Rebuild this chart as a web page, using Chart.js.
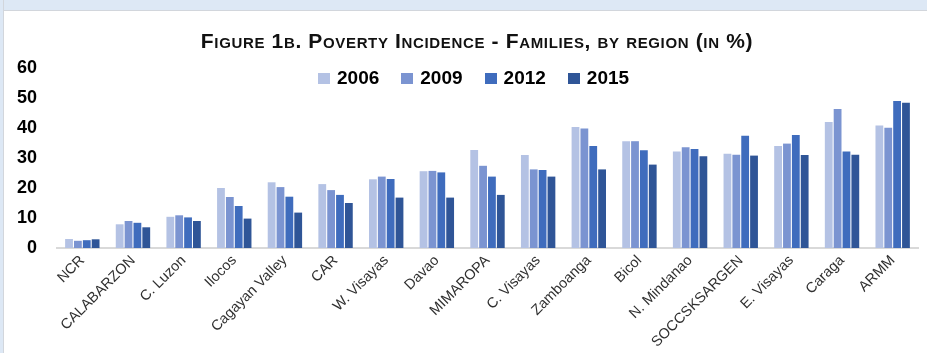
<!DOCTYPE html>
<html>
<head>
<meta charset="utf-8">
<script src="https://cdn.jsdelivr.net/npm/chart.js@4/dist/chart.umd.min.js"></script>
<style>
  html, body { margin: 0; padding: 0; background: #ffffff; }
  body { width: 927px; height: 353px; position: relative; overflow: hidden; }
  #topband { position: absolute; left: 0; top: 0; width: 927px; height: 10px; background: #dde8f5; border-bottom: 1px solid #d2d6dc; }
  #leftband { position: absolute; left: 0; top: 0; width: 3px; height: 353px; background: #dde8f5; border-right: 1px solid #d2d6dc; }
  #title { position: absolute; left: 0; top: 29px; width: 954px; text-align: center;
           font-family: "Liberation Sans Narrow", "Liberation Sans", sans-serif; font-weight: bold;
           font-variant: small-caps; font-size: 21px; color: #111; letter-spacing: 0.65px; white-space: nowrap; }
  #legend { position: absolute; left: 318px; top: 67px; display: flex; align-items: center;
            font-family: "Liberation Sans", sans-serif; font-weight: bold; font-size: 19px; color: #000; }
  .item { display: flex; align-items: center; margin-right: 22px; }
  .sw { width: 12px; height: 11px; margin-right: 7px; }
  #wrap { position: absolute; left: 0; top: 0; width: 927px; height: 353px; }
</style>
</head>
<body>
<div id="topband"></div>
<div id="leftband"></div>
<div id="wrap"><canvas id="c" width="927" height="353"></canvas></div>
<div id="title">Figure 1b. Poverty Incidence - Families, by region (in %)</div>
<div id="legend"></div>
<script>
const regions = ["NCR", "CALABARZON", "C. Luzon", "Ilocos", "Cagayan Valley", "CAR", "W. Visayas", "Davao",
  "MIMAROPA", "C. Visayas", "Zamboanga", "Bicol", "N. Mindanao", "SOCCSKSARGEN", "E. Visayas", "Caraga", "ARMM"];
const seriesNames = ["2006", "2009", "2012", "2015"];
const y2006 = [3.0, 7.9, 10.4, 20.0, 21.9, 21.3, 22.9, 25.6, 32.7, 31.0, 40.3, 35.6, 32.2, 31.4, 34.0, 42.0, 40.8];
const y2009 = [2.4, 9.0, 10.9, 17.0, 20.3, 19.3, 23.8, 25.7, 27.4, 26.2, 39.8, 35.6, 33.6, 31.1, 34.8, 46.3, 40.1];
const y2012 = [2.6, 8.4, 10.2, 14.0, 17.1, 17.7, 23.0, 25.2, 23.8, 26.0, 34.0, 32.6, 33.0, 37.4, 37.7, 32.2, 49.0];
const y2015 = [2.9, 6.9, 9.0, 9.8, 11.8, 15.0, 16.8, 16.8, 17.7, 23.8, 26.2, 27.8, 30.6, 30.8, 31.0, 31.1, 48.4];
const yTicks = [0, 10, 20, 30, 40, 50, 60];
const colors = ["#b4c2e4", "#7b94d1", "#3f6cbd", "#2f5597"];

const values = [y2006, y2009, y2012, y2015];

// HTML legend
const legend = document.getElementById('legend');
seriesNames.forEach((n, i) => {
  const it = document.createElement('div'); it.className = 'item';
  const sw = document.createElement('div'); sw.className = 'sw'; sw.style.background = colors[i];
  const tx = document.createElement('span'); tx.textContent = n;
  it.appendChild(sw); it.appendChild(tx); legend.appendChild(it);
});

new Chart(document.getElementById('c'), {
  type: 'bar',
  data: {
    labels: regions,
    datasets: seriesNames.map((n, i) => ({
      label: n, data: values[i], backgroundColor: colors[i],
      barPercentage: 0.88, categoryPercentage: 0.7, borderWidth: 0
    }))
  },
  options: {
    responsive: false, animation: false,
    layout: { padding: { left: 0, right: 9, top: 68, bottom: 0 } },
    plugins: { legend: { display: false }, title: { display: false }, tooltip: { enabled: false } },
    scales: {
      x: {
        grid: { display: false, drawTicks: false },
        border: { display: true, color: '#d9d9d9', width: 2 },
        ticks: { maxRotation: 45, minRotation: 45, autoSkip: false, padding: 4, color: '#303030',
                 font: { family: 'Liberation Sans', size: 14.5 } },
        afterFit: (s) => { s.height = 105; }
      },
      y: {
        min: 0, max: 60,
        afterBuildTicks: (s) => { s.ticks = yTicks.map(v => ({ value: v })); },
        grid: { display: false, drawTicks: false },
        border: { display: false },
        ticks: { padding: 20, color: '#000', font: { family: 'Liberation Sans', size: 18, weight: 'bold' } },
        afterFit: (s) => { s.width = 57; }
      }
    }
  }
});
</script>
</body>
</html>
